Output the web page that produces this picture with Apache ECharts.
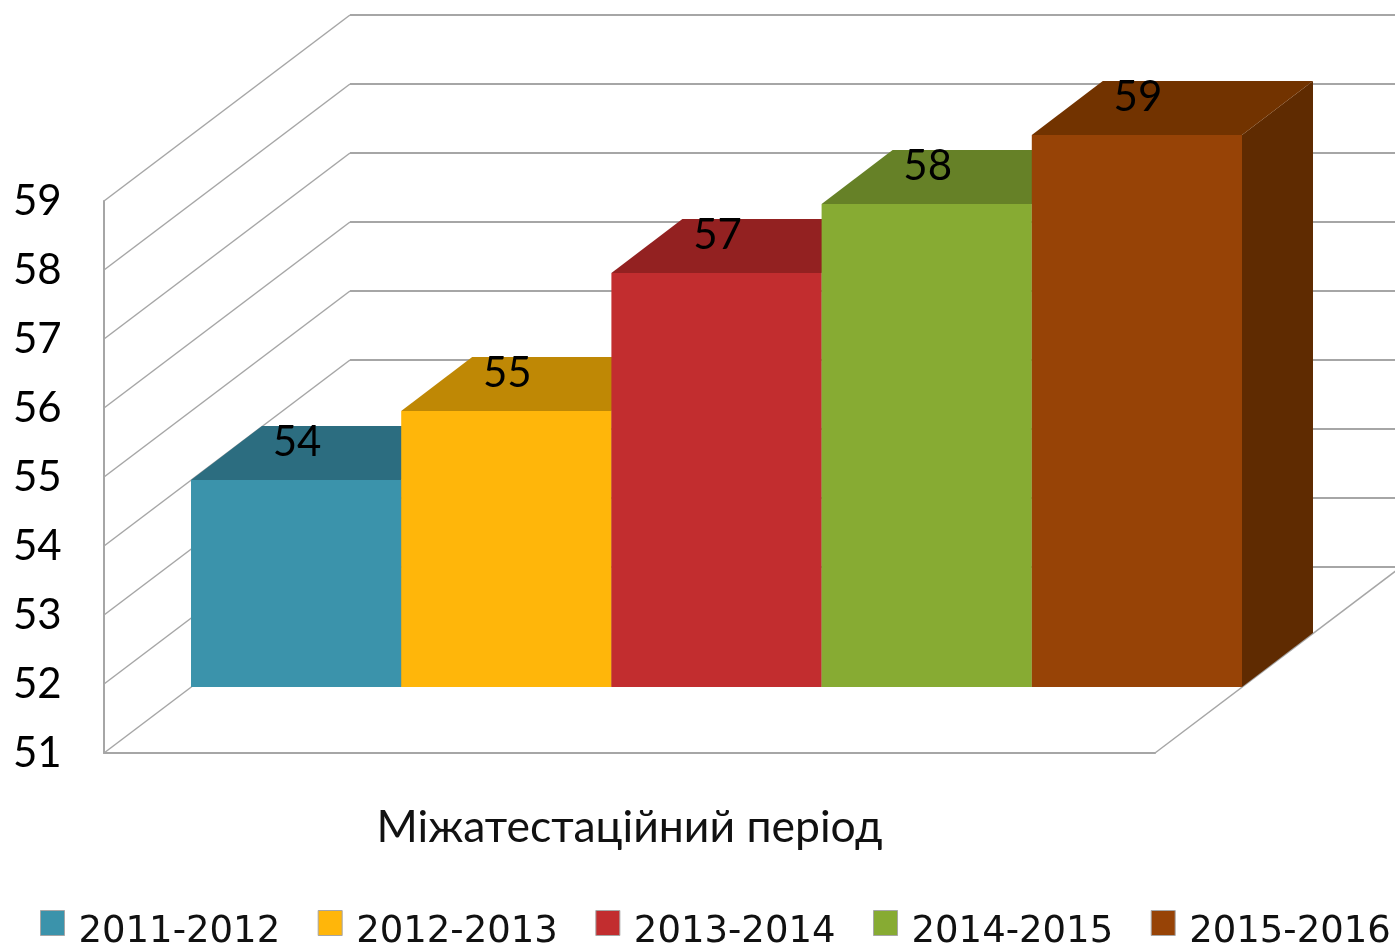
<!DOCTYPE html>
<html>
<head>
<meta charset="utf-8">
<title>Міжатестаційний період</title>
<script src="https://cdn.jsdelivr.net/npm/echarts@6/dist/echarts.min.js"></script>
<style>
  html, body { margin: 0; padding: 0; background: #fff; }
  #chart { width: 1395px; height: 949px; }
</style>
</head>
<body>
<div id="chart"></div>
<script>
const categories = ['Міжатестаційний період']
const periods = ['2011-2012', '2012-2013', '2013-2014', '2014-2015', '2015-2016']
const values = [54, 55, 57, 58, 59]
const yTicks = [51, 52, 53, 54, 55, 56, 57, 58, 59]

const frontColors = ['#3b93ab', '#ffb60a', '#c22d2f', '#87ab33', '#974306']
const topColors = ['#2c6d80', '#bf8805', '#932121', '#668127', '#723300']
const sideColors = ['#245a69', '#9e7104', '#7a1b1b', '#546a20', '#5f2b01']

const lineColor = '#a6a6a6'
const textFont = 'Lato'
// 3d projection: how far the box back wall and the bars sit from the front plane
const wallDx = 246, wallDy = -186
const barDx = 87, barDy = -66
const depthDx = 71, depthDy = -54

function renderWalls(params, api) {
  const rect = params.coordSys
  const v = api.value(0)
  const y = api.coord([0, v])[1]
  const left = rect.x
  const right = rect.x + rect.width
  const children = [
    {
      type: 'line',
      shape: { x1: left, y1: y, x2: left + wallDx, y2: y + wallDy },
      style: { stroke: lineColor, lineWidth: 1.5 }
    },
    {
      type: 'line',
      shape: { x1: left + wallDx, y1: y + wallDy, x2: right + wallDx, y2: y + wallDy },
      style: { stroke: lineColor, lineWidth: 2 }
    }
  ]
  if (v === yTicks[0]) {
    children.push({
      type: 'line',
      shape: { x1: right, y1: y, x2: right + wallDx, y2: y + wallDy },
      style: { stroke: lineColor, lineWidth: 1.5 }
    })
  }
  return { type: 'group', children: children }
}

function renderBar(params, api) {
  const i = params.seriesIndex - 1
  const rect = params.coordSys
  const w = api.size([1, 0])[0] / periods.length
  const top = api.coord([0, api.value(1)])[1] + barDy
  const bottom = rect.y + rect.height + barDy
  const x0 = rect.x + i * w + barDx
  const x1 = x0 + w
  return {
    type: 'group',
    children: [
      {
        type: 'polygon',
        shape: { points: [[x1, top], [x1 + depthDx, top + depthDy], [x1 + depthDx, bottom + depthDy], [x1, bottom]] },
        style: { fill: sideColors[i] }
      },
      {
        type: 'polygon',
        shape: { points: [[x0, top], [x0 + depthDx, top + depthDy], [x1 + depthDx, top + depthDy], [x1, top]] },
        style: { fill: topColors[i] }
      },
      {
        type: 'rect',
        shape: { x: x0, y: top, width: w, height: bottom - top },
        style: { fill: frontColors[i] }
      },
      {
        type: 'text',
        style: {
          text: String(api.value(1)),
          x: (x0 + x1) / 2 + 1,
          y: top - 38,
          fill: '#000',
          fontSize: 42,
          fontFamily: textFont,
          align: 'center',
          verticalAlign: 'middle'
        }
      }
    ]
  }
}

const series = [{
  name: 'walls',
  type: 'custom',
  renderItem: renderWalls,
  data: yTicks.map(t => [t]),
  encode: { y: 0 },
  silent: true
}]
periods.forEach((name, i) => {
  series.push({
    name: name,
    type: 'custom',
    renderItem: renderBar,
    itemStyle: { color: frontColors[i] },
    data: [[0, values[i]]],
    encode: { x: 0, y: 1 }
  })
})

const chart = echarts.init(document.getElementById('chart'))
chart.setOption({
  animation: false,
  backgroundColor: '#fff',
  grid: { left: 104, top: 201, width: 1051, height: 552 },
  legend: {
    data: periods,
    left: 35,
    top: 905,
    width: 1500,
    icon: 'rect',
    itemWidth: 24,
    itemHeight: 25,
    itemGap: 37.5,
    itemStyle: { borderColor: '#a6a6a6', borderWidth: 1 },
    selectedMode: false,
    formatter: '{t|{name}}',
    textStyle: {
      rich: {
        t: {
          fontFamily: 'DejaVu Sans',
          fontSize: 37,
          color: '#111',
          lineHeight: 56,
          verticalAlign: 'bottom',
          padding: [0, 0, 0, 9]
        }
      }
    }
  },
  xAxis: {
    type: 'category',
    data: categories,
    axisLine: { lineStyle: { color: lineColor, width: 2 } },
    axisTick: { show: false },
    axisLabel: { margin: 52, fontFamily: textFont, fontSize: 44.5, color: '#111' }
  },
  yAxis: {
    type: 'value',
    min: 51,
    max: 59,
    interval: 1,
    splitLine: { show: false },
    axisTick: { show: false },
    axisLine: { show: true, lineStyle: { color: lineColor, width: 2 } },
    axisLabel: { margin: 91, align: 'left', padding: [2, 0, 0, 0], fontFamily: textFont, fontSize: 42, color: '#000' }
  },
  series: series
})
</script>
</body>
</html>
